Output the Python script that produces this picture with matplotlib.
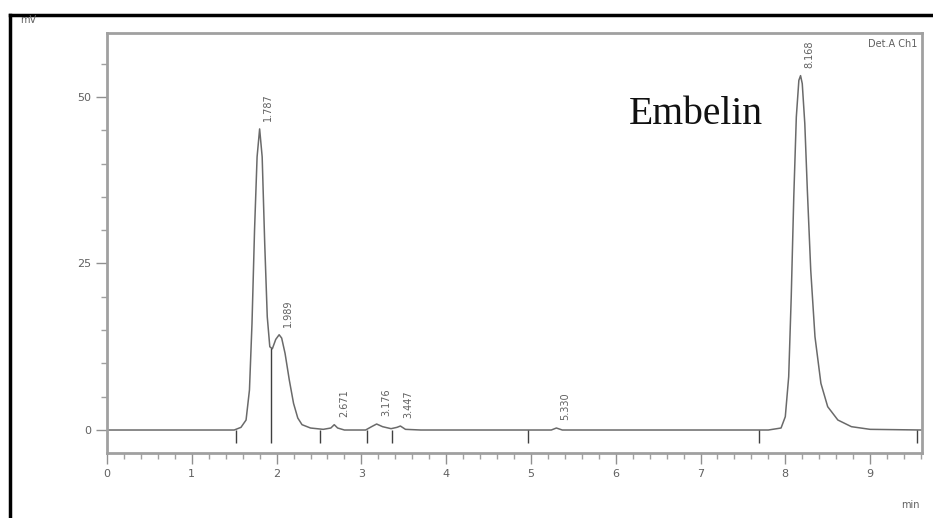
import numpy as np
import matplotlib.pyplot as plt
from matplotlib.ticker import MultipleLocator

# chromatogram trace (min, mV)
t = [0.0, 1.50, 1.58, 1.64, 1.68, 1.71, 1.74, 1.77, 1.80, 1.83, 1.86, 1.89,
     1.92, 1.95, 1.99, 2.03, 2.06, 2.10, 2.15, 2.20, 2.25, 2.30, 2.40, 2.55,
     2.64, 2.68, 2.72, 2.80, 3.05, 3.12, 3.18, 3.25, 3.35, 3.42, 3.46, 3.52, 3.70,
     5.24, 5.30, 5.37, 7.80, 7.95, 8.00, 8.04, 8.07, 8.10, 8.13, 8.16, 8.18, 8.20,
     8.23, 8.26, 8.30, 8.35, 8.42, 8.50, 8.62, 8.78, 9.00, 9.61]
mv = [0.0, 0.0, 0.4, 1.5, 6.0, 16.0, 30.0, 41.0, 45.2, 41.0, 28.0, 17.0,
      12.5, 12.2, 13.6, 14.3, 13.8, 11.5, 7.5, 4.0, 1.8, 0.8, 0.3, 0.1,
      0.3, 0.8, 0.3, 0.0, 0.0, 0.5, 0.9, 0.5, 0.2, 0.4, 0.6, 0.1, 0.0,
      0.0, 0.3, 0.0, 0.0, 0.3, 2.0, 8.0, 20.0, 35.0, 47.0, 52.5, 53.2, 52.0,
      46.0, 36.0, 24.0, 14.0, 7.0, 3.5, 1.5, 0.5, 0.1, 0.0]

# retention time labels
rt_pos = [1.80, 2.03, 2.70, 3.19, 3.46, 5.30, 8.18]
rt_top = [45.2, 14.3, 0.8, 0.9, 0.6, 0.3, 53.2]
rt_text = ["1.787", "1.989", "2.671", "3.176", "3.447", "5.330", "8.168"]

# integration markers on the baseline (time, top of the mark)
marks = [1.52, 1.93, 2.51, 3.07, 3.36, 4.97, 7.69, 9.55]
mark_top = [0.0, 12.3, 0.0, 0.0, 0.0, 0.0, 0.0, 0.0]

fig = plt.figure(figsize=(9.33, 5.18), dpi=100)
ax = fig.add_axes([0.1147, 0.1255, 0.988 - 0.1147, 0.9363 - 0.1255])

ax.plot(t, mv, color="#6a6a6a", lw=1.1)
ax.vlines(marks, -2.0, mark_top, color="#404040", lw=1.0)

for x, y, s in zip(rt_pos, rt_top, rt_text):
    ax.text(x + 0.04, y + 1.2, s, rotation=90, fontsize=7, color="#606060",
            ha="left", va="bottom")

ax.set_xlim(0, 9.61)
ax.set_ylim(-3.45, 59.6)
ax.xaxis.set_major_locator(MultipleLocator(1))
ax.xaxis.set_minor_locator(MultipleLocator(0.2))
ax.yaxis.set_major_locator(MultipleLocator(25))
ax.yaxis.set_minor_locator(MultipleLocator(5))
ax.tick_params(which="major", length=8, width=1, color="#909090",
               labelsize=8, labelcolor="#606060")
ax.tick_params(which="minor", length=4, width=1, color="#a0a0a0")
for sp in ax.spines.values():
    sp.set_color("#a0a0a0")
    sp.set_linewidth(2)

ax.text(0.995, 0.985, "Det.A Ch1", transform=ax.transAxes, ha="right", va="top",
        fontsize=7, color="#606060")
ax.text(6.15, 47.3, "Embelin", fontsize=28.5, family="Liberation Serif",
        color="#111111", ha="left", va="center")

fig.text(20 / 933, 1 - 20 / 518, "mV", fontsize=7, color="#606060", va="center")
fig.text(910 / 933, 1 - 505 / 518, "min", fontsize=7, color="#606060",
         ha="center", va="center")

# black outer frame (top and left)
fig.add_artist(plt.Line2D([10 / 933, 1], [1 - 15 / 518, 1 - 15 / 518],
                          color="black", lw=2.5))
fig.add_artist(plt.Line2D([10 / 933, 10 / 933], [0, 1 - 15 / 518],
                          color="black", lw=2.5))

fig.savefig("out.png", dpi=100)
